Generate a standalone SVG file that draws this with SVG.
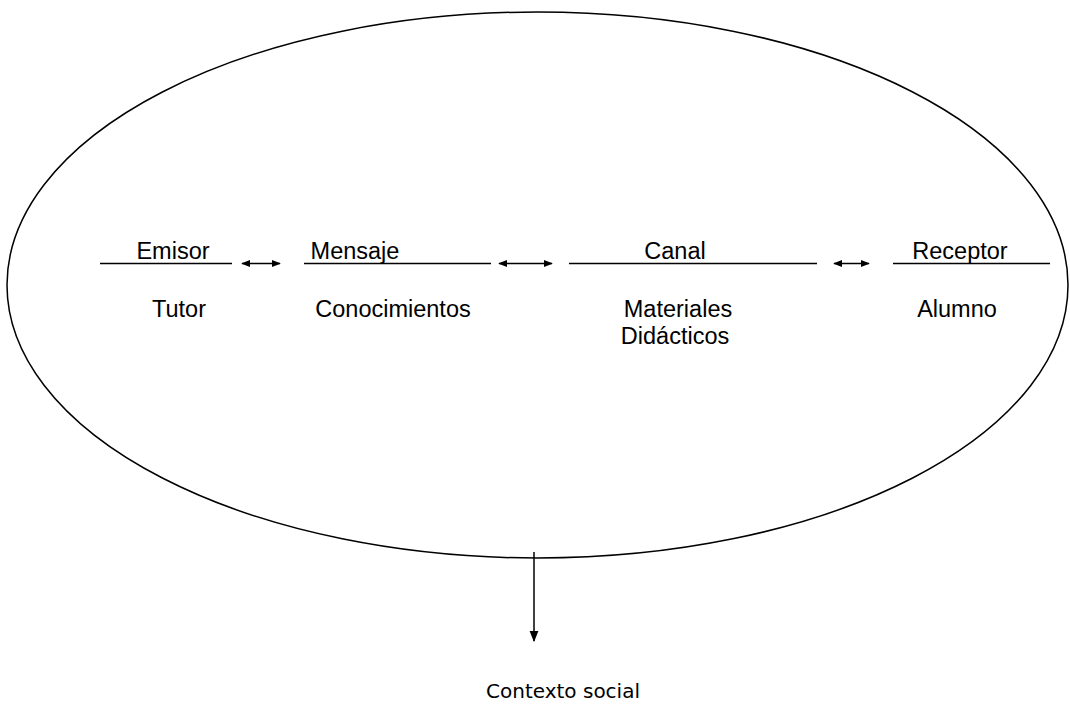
<svg xmlns="http://www.w3.org/2000/svg" width="1070" height="711" viewBox="0 0 1070 711">
<style>
text{font-family:"Liberation Sans",Arial,sans-serif;font-size:23.5px;fill:#000;text-anchor:middle}
.ln{stroke:#000;stroke-width:1.5;fill:none}
.ct{font-family:"DejaVu Sans",sans-serif;font-size:20px}
</style>
<defs>
<marker id="ah" viewBox="0 0 10 10" refX="9" refY="5" markerWidth="9" markerHeight="9" markerUnits="userSpaceOnUse" orient="auto-start-reverse"><path d="M0,1 L10,5 L0,9 Z" fill="#000"/></marker>
<marker id="ahd" viewBox="0 0 10 10" refX="9" refY="5" markerWidth="11" markerHeight="11" markerUnits="userSpaceOnUse" orient="auto"><path d="M0,1 L10,5 L0,9 Z" fill="#000"/></marker>
</defs>
<g id="context"><ellipse cx="537.5" cy="285" rx="530.5" ry="273" class="ln"/></g>
<g id="emisor"><line x1="100" y1="263.5" x2="232" y2="263.5" class="ln"/><text x="173" y="259">Emisor</text><text x="179" y="317">Tutor</text></g>
<g id="mensaje"><line x1="304" y1="263.5" x2="491" y2="263.5" class="ln"/><text x="355" y="259">Mensaje</text><text x="393" y="317">Conocimientos</text></g>
<g id="canal"><line x1="569" y1="263.5" x2="817" y2="263.5" class="ln"/><text x="675" y="259">Canal</text><text x="678" y="317">Materiales</text><text x="675" y="344">Didácticos</text></g>
<g id="receptor"><line x1="893" y1="263.5" x2="1050" y2="263.5" class="ln"/><text x="960" y="259">Receptor</text><text x="957" y="317">Alumno</text></g>
<g id="social"><text class="ct" x="563" y="698">Contexto social</text></g>
<g id="connectors">
<line x1="242" y1="263.5" x2="280" y2="263.5" class="ln" marker-start="url(#ah)" marker-end="url(#ah)"/>
<line x1="499" y1="263.5" x2="552" y2="263.5" class="ln" marker-start="url(#ah)" marker-end="url(#ah)"/>
<line x1="834" y1="263.5" x2="869" y2="263.5" class="ln" marker-start="url(#ah)" marker-end="url(#ah)"/>
<line x1="534" y1="552" x2="534" y2="641" class="ln" marker-end="url(#ahd)"/>
</g>
</svg>
